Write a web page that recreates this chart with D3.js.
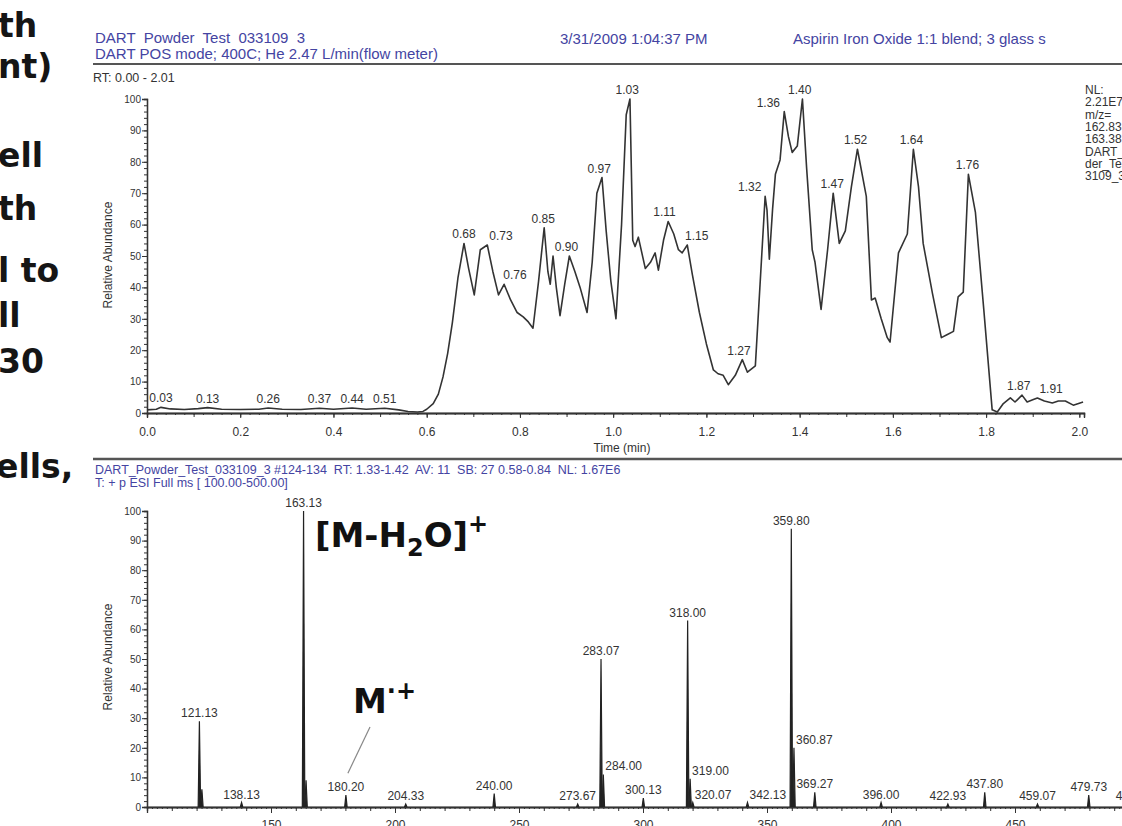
<!DOCTYPE html>
<html>
<head>
<meta charset="utf-8">
<script src="https://cdn.jsdelivr.net/npm/d3@7"></script>
<style>
  body { margin: 0; background: #fff; }
  svg { display: block; font-family: "Liberation Sans", Arial, sans-serif; }
</style>
</head>
<body>
<div id="chart"></div>
<script>
// ---- chromatogram (top): time in min, relative abundance in %
let chromTime = [0.00, 0.02, 0.03, 0.05, 0.08, 0.11, 0.13, 0.16, 0.20, 0.24, 0.26, 0.29, 0.33, 0.37, 0.40, 0.44, 0.47, 0.51, 0.54, 0.56,
  0.58, 0.592, 0.60, 0.614, 0.625, 0.635, 0.645, 0.655, 0.667, 0.680, 0.690, 0.702, 0.715, 0.730, 0.742, 0.754, 0.766, 0.780, 0.794, 0.807,
  0.818, 0.828, 0.840, 0.852, 0.860, 0.865, 0.871, 0.878, 0.886, 0.896, 0.906, 0.918, 0.929, 0.944, 0.955, 0.965, 0.976, 0.985, 0.995, 1.006,
  1.018, 1.028, 1.036, 1.042, 1.047, 1.054, 1.069, 1.080, 1.090, 1.097, 1.108, 1.118, 1.130, 1.140, 1.148, 1.159, 1.170, 1.185, 1.200, 1.215,
  1.225, 1.236, 1.247, 1.262, 1.277, 1.288, 1.305, 1.326, 1.330, 1.335, 1.342, 1.348, 1.358, 1.367, 1.376, 1.384, 1.395, 1.406, 1.415, 1.427,
  1.433, 1.446, 1.460, 1.472, 1.485, 1.498, 1.511, 1.524, 1.543, 1.554, 1.562, 1.575, 1.588, 1.594, 1.612, 1.631, 1.644, 1.655, 1.665, 1.685,
  1.704, 1.717, 1.730, 1.740, 1.751, 1.762, 1.777, 1.795, 1.813, 1.824, 1.837, 1.852, 1.862, 1.877, 1.888, 1.900, 1.910, 1.925, 1.942, 1.955,
  1.970, 1.987, 2.008]
let chromAbund = [1.0, 1.2, 1.8, 1.3, 1.1, 1.4, 1.7, 1.2, 1.1, 1.2, 1.6, 1.2, 1.1, 1.5, 1.2, 1.6, 1.2, 1.5, 1.0, 0.5,
  0.3, 0.5, 1.2, 3, 6, 11.5, 19, 28.7, 43, 54, 46, 37.6, 52, 53.5, 45, 37.6, 41, 36, 32, 30.6,
  29, 27, 42, 59, 45, 41, 50, 40, 31, 41, 50, 45, 40, 32, 48, 70, 75, 58, 42, 30,
  60, 95, 100, 55, 53, 56, 46, 48, 51, 45.5, 55, 61, 57, 52, 51, 53.5, 44, 32, 22, 13.7,
  12.5, 12, 9, 12, 17, 13, 15, 69, 64.6, 49, 65, 76, 80.6, 96, 88, 83, 85, 100, 78, 52,
  48, 33, 52, 70, 54, 58, 72, 84, 69, 36, 36.6, 30, 24, 22.6, 51, 57, 84, 72, 54, 38,
  24, 25, 26, 37, 38.5, 76, 64, 33, 1, 0.3, 3, 4.8, 3.5, 5.7, 3.5, 4.2, 4.8, 3.8, 3.2, 3.8,
  3.8, 2.5, 3.5]
let chromPeakLabels = ["0.03", "0.13", "0.26", "0.37", "0.44", "0.51", "0.68", "0.73", "0.76", "0.85", "0.90", "0.97",
  "1.03", "1.11", "1.15", "1.27", "1.32", "1.36", "1.40", "1.47", "1.52", "1.64", "1.76", "1.87", "1.91"]
let timeTicks = [0.0, 0.2, 0.4, 0.6, 0.8, 1.0, 1.2, 1.4, 1.6, 1.8, 2.0]
let abundTicks = [0, 10, 20, 30, 40, 50, 60, 70, 80, 90, 100]

// ---- mass spectrum (bottom): m/z and relative abundance in %
let specMz = [121.13, 122.13, 138.13, 163.13, 164.13, 180.20, 204.33, 240.00, 273.67, 283.07, 284.00, 300.13, 318.00,
  319.00, 320.07, 342.13, 359.80, 360.87, 369.27, 396.00, 422.93, 437.80, 459.07, 479.73, 498.07]
let specAbund = [29, 6, 1.5, 100, 9, 4, 1, 4.5, 1, 50, 11, 3, 63, 9.5, 1.5, 1.5, 94, 20, 5, 1.5, 1, 5, 1, 4, 1]
let specLabels = ["121.13", "", "138.13", "163.13", "", "180.20", "204.33", "240.00", "273.67", "283.07", "284.00", "300.13", "318.00",
  "319.00", "320.07", "342.13", "359.80", "360.87", "369.27", "396.00", "422.93", "437.80", "459.07", "479.73", "498.07"]
let mzTicks = [150, 200, 250, 300, 350, 400, 450, 500]

// ---- text blocks
let leftLines = ["th", "nt)", "ell", "th", "l to", "ll", "30", "ells,"]
let rightNotes = ["NL:", "2.21E7", "m/z=", "162.83-", "163.38", "DART_Pow", "der_Test_03", "3109_3"]

let svg = d3.select("#chart").append("svg")
  .attr("width", 1122)
  .attr("height", 826)

// cropped page text on the left
let leftY = [37, 78, 167, 220, 282, 327, 373, 478]
svg.selectAll("text.left")
  .data(leftLines)
  .enter()
  .append("text")
  .attr("class", "left")
  .attr("x", (d, i) => i == 7 ? -4 : -2)
  .attr("y", (d, i) => leftY[i])
  .attr("font-family", "'DejaVu Sans', sans-serif")
  .attr("font-weight", "bold")
  .attr("font-size", 33)
  .attr("fill", "#151515")
  .text(d => d)

// header of the chromatogram
let blue = "#4444a2"
svg.append("text").attr("x", 95).attr("y", 43).attr("font-size", 15).attr("fill", blue)
  .style("white-space", "pre").text("DART  Powder  Test  033109  3")
svg.append("text").attr("x", 95).attr("y", 59).attr("font-size", 15).attr("fill", blue)
  .text("DART POS mode; 400C; He 2.47 L/min(flow meter)")
svg.append("text").attr("x", 560).attr("y", 44).attr("font-size", 15).attr("fill", blue)
  .text("3/31/2009 1:04:37 PM")
svg.append("text").attr("x", 793).attr("y", 44).attr("font-size", 15).attr("fill", blue)
  .text("Aspirin Iron Oxide 1:1 blend; 3 glass s")
svg.append("line").attr("x1", 93).attr("x2", 1122).attr("y1", 64).attr("y2", 64)
  .attr("stroke", "#555").attr("stroke-width", 2)
svg.append("text").attr("x", 93).attr("y", 82).attr("font-size", 12.5).attr("fill", "#333")
  .text("RT: 0.00 - 2.01")

svg.selectAll("text.note")
  .data(rightNotes)
  .enter()
  .append("text")
  .attr("class", "note")
  .attr("x", 1085)
  .attr("y", (d, i) => 94 + i * 12.3)
  .attr("font-size", 12)
  .attr("fill", "#333")
  .text(d => d)

function styleAxis(g, fs) {
  g.select(".domain").attr("stroke", "#333").attr("stroke-width", 1.3)
  g.selectAll(".tick line").attr("stroke", "#333")
  g.selectAll(".tick text").attr("fill", "#333").attr("font-size", fs)
}

// ---- chromatogram
let xT = d3.scaleLinear().domain([0, 2.01]).range([147, 1084])
let yT = d3.scaleLinear().domain([0, 100]).range([413, 99])

svg.append("g").attr("transform", "translate(0,413)")
  .call(d3.axisBottom(xT).tickValues(d3.range(0, 201, 2).map(v => v / 100)).tickSize(2).tickFormat(""))
  .call(g => styleAxis(g, 10))
svg.append("g").attr("transform", "translate(0,413)")
  .call(d3.axisBottom(xT).tickValues(d3.range(0, 21, 1).map(v => v / 10)).tickSize(4).tickFormat(""))
  .call(g => styleAxis(g, 10))
svg.append("g").attr("transform", "translate(0,413)")
  .call(d3.axisBottom(xT).tickValues(timeTicks).tickSize(5).tickPadding(9).tickFormat(d3.format(".1f")))
  .call(g => styleAxis(g, 12))

svg.append("g").attr("transform", "translate(147,0)")
  .call(d3.axisLeft(yT).tickValues(d3.range(0, 101, 2)).tickSize(3).tickFormat(""))
  .call(g => styleAxis(g, 10))
svg.append("g").attr("transform", "translate(147,0)")
  .call(d3.axisLeft(yT).tickValues(abundTicks).tickSize(5).tickPadding(1))
  .call(g => styleAxis(g, 10))

svg.append("text").attr("transform", "translate(112,255) rotate(-90)")
  .attr("text-anchor", "middle").attr("font-size", 12).attr("fill", "#333")
  .text("Relative Abundance")
svg.append("text").attr("x", 622).attr("y", 452)
  .attr("text-anchor", "middle").attr("font-size", 12).attr("fill", "#333")
  .text("Time (min)")

let chromPts = d3.zip(chromTime, chromAbund)
svg.append("path")
  .datum(chromPts)
  .attr("fill", "none")
  .attr("stroke", "#333")
  .attr("stroke-width", 1.6)
  .attr("stroke-linejoin", "round")
  .attr("d", d3.line().x(d => xT(d[0])).y(d => yT(d[1])))

// label height = highest point of the trace near the labelled time
function chromHeight(t) {
  let near = chromPts.filter(p => Math.abs(p[0] - t) <= 0.012)
  return d3.max(near, p => p[1])
}
// crowded labels are set beside their peak, as the instrument software does
let chromAlign = { "0.73": "start", "0.76": "start", "1.15": "start", "1.91": "start", "1.32": "end", "1.36": "end" }
function chromLabelX(d) {
  let a = chromAlign[d]
  return a == "start" ? xT(+d) + 2 : a == "end" ? xT(+d) - 1 : xT(+d)
}
svg.selectAll("text.cpk")
  .data(chromPeakLabels)
  .enter()
  .append("text")
  .attr("class", "cpk")
  .attr("x", chromLabelX)
  .attr("y", d => yT(chromHeight(+d)) - 5)
  .attr("text-anchor", d => chromAlign[d] || "middle")
  .attr("font-size", 12)
  .attr("fill", "#333")
  .text(d => d)

// ---- spectrum header
svg.append("line").attr("x1", 93).attr("x2", 1122).attr("y1", 459).attr("y2", 459)
  .attr("stroke", "#555").attr("stroke-width", 2.5)
svg.append("text").attr("x", 95).attr("y", 474).attr("font-size", 12.5).attr("fill", blue)
  .style("white-space", "pre")
  .text("DART_Powder_Test_033109_3 #124-134  RT: 1.33-1.42  AV: 11  SB: 27 0.58-0.84  NL: 1.67E6")
svg.append("text").attr("x", 95).attr("y", 487).attr("font-size", 12.5).attr("fill", blue)
  .text("T: + p ESI Full ms [ 100.00-500.00]")

// ---- spectrum
let xS = d3.scaleLinear().domain([100, 500]).range([147, 1139])
let yS = d3.scaleLinear().domain([0, 100]).range([807, 511])

svg.append("g").attr("transform", "translate(0,807)")
  .call(d3.axisBottom(xS).tickValues(d3.range(100, 501, 2)).tickSize(2).tickFormat(""))
  .call(g => styleAxis(g, 10))
svg.append("g").attr("transform", "translate(0,807)")
  .call(d3.axisBottom(xS).tickValues(d3.range(100, 501, 10)).tickSize(4).tickFormat(""))
  .call(g => styleAxis(g, 10))
svg.append("g").attr("transform", "translate(0,807)")
  .call(d3.axisBottom(xS).tickValues(mzTicks).tickSize(6).tickPadding(7))
  .call(g => styleAxis(g, 12))

svg.append("g").attr("transform", "translate(147,0)")
  .call(d3.axisLeft(yS).tickValues(d3.range(0, 101, 2)).tickSize(3).tickFormat(""))
  .call(g => styleAxis(g, 10))
svg.append("g").attr("transform", "translate(147,0)")
  .call(d3.axisLeft(yS).tickValues(abundTicks).tickSize(5).tickPadding(1))
  .call(g => styleAxis(g, 10))

svg.append("text").attr("transform", "translate(112,657) rotate(-90)")
  .attr("text-anchor", "middle").attr("font-size", 12).attr("fill", "#333")
  .text("Relative Abundance")

let specPts = d3.zip(specMz, specAbund, specLabels)
let peakLine = d3.line().x(d => xS(d[0])).y(d => yS(d[1]))
svg.selectAll("path.pk")
  .data(specPts)
  .enter()
  .append("path")
  .attr("class", "pk")
  .attr("fill", "#222")
  .attr("stroke", "#222")
  .attr("stroke-width", 1.2)
  .attr("d", d => peakLine([[d[0] - 0.5, 0], [d[0], d[1]], [d[0] + 0.5, 0]]))

// labels pushed to the right of their peak by the instrument software
let sideLabels = new Set(["284.00", "319.00", "320.07", "342.13", "360.87"])
svg.selectAll("text.spk")
  .data(specPts.filter(d => d[2] != ""))
  .enter()
  .append("text")
  .attr("class", "spk")
  .attr("x", d => sideLabels.has(d[2]) ? xS(d[0]) + 2 : xS(d[0]))
  .attr("y", d => yS(d[1]) - 4)
  .attr("text-anchor", d => sideLabels.has(d[2]) ? "start" : "middle")
  .attr("font-size", 12)
  .attr("fill", "#333")
  .text(d => d[2])

// ---- annotations
let ann = svg.append("text").attr("x", 315).attr("y", 547)
  .attr("font-family", "'DejaVu Sans', sans-serif").attr("font-weight", "bold")
  .attr("font-size", 34).attr("fill", "#111")
ann.append("tspan").text("[M-H")
ann.append("tspan").attr("dy", 9).attr("font-size", 24).text("2")
ann.append("tspan").attr("dy", -9).text("O]")
ann.append("tspan").attr("dy", -15).attr("font-size", 24).text("+")

let mAnn = svg.append("text").attr("x", 353).attr("y", 713)
  .attr("font-family", "'DejaVu Sans', sans-serif").attr("font-weight", "bold")
  .attr("font-size", 34).attr("fill", "#111")
mAnn.append("tspan").text("M")
mAnn.append("tspan").attr("dy", -14).attr("font-size", 24).text("·+")

svg.append("line")
  .attr("x1", 370).attr("y1", 727)
  .attr("x2", xS(180.20) + 2).attr("y2", yS(4) - 22)
  .attr("stroke", "#888").attr("stroke-width", 1.2)
</script>
</body>
</html>
